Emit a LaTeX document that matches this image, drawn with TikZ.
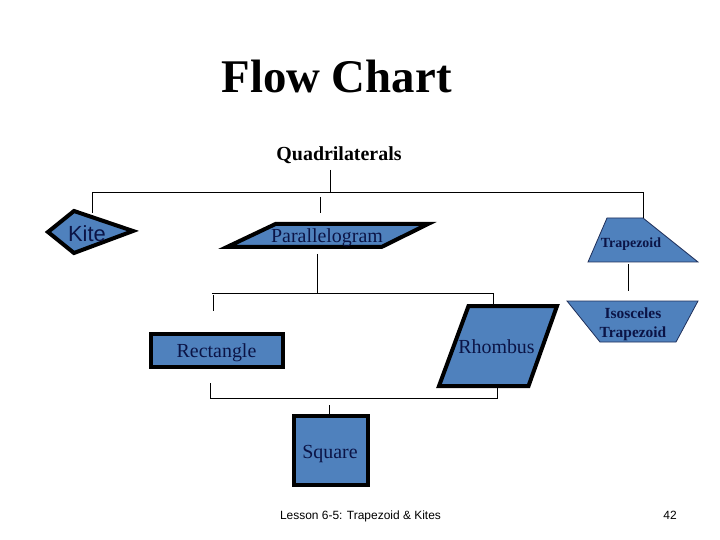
\documentclass[tikz,border=0pt]{standalone}
\usepackage{fontspec}
\setmainfont{Liberation Serif}
\setsansfont{Liberation Sans}
\definecolor{shapeblue}{HTML}{4F81BD}
\definecolor{navytext}{HTML}{0B1446}
\definecolor{edgeblue}{HTML}{1F2F5A}
\begin{document}
\begin{tikzpicture}[x=1bp,y=-1bp,
  thickshape/.style={draw=black, line width=4bp, fill=shapeblue, line join=miter, miter limit=20},
  thinshape/.style={draw=edgeblue, line width=0.8bp, fill=shapeblue},
  link/.style={draw=black, line width=1bp},
  lbl/.style={inner sep=0pt, anchor=base, text=navytext, font=\fontsize{20}{20}\selectfont},
  boldlbl/.style={inner sep=0pt, anchor=base, text=navytext, font=\bfseries\fontsize{14}{14}\selectfont},
  head/.style={inner sep=0pt, anchor=base, text=black}]
\useasboundingbox (0,0) rectangle (720,540);

% title and heading
\node[head, font=\bfseries\fontsize{47}{47}\selectfont] (title) at (336.5,93) {Flow Chart};
\node[head, font=\bfseries\fontsize{20}{20}\selectfont] (quad) at (339,161) {Quadrilaterals};

% Kite
\coordinate (kL) at (48,232); \coordinate (kT) at (74,211);
\coordinate (kR) at (133,231); \coordinate (kB) at (74,253);
\draw[thickshape] (kL) -- (kT) -- (kR) -- (kB) -- cycle;
\node[lbl, font=\sffamily\fontsize{22}{22}\selectfont] (kite) at (87,242) {Kite};

% Parallelogram
\coordinate (pTL) at (275.5,224); \coordinate (pTR) at (428,224);
\coordinate (pBR) at (381.5,247); \coordinate (pBL) at (227,247);
\draw[thickshape] (pTL) -- (pTR) -- (pBR) -- (pBL) -- cycle;
\node[lbl] (para) at (327,243) {Parallelogram};

% Trapezoid
\coordinate (tTL) at (607,218); \coordinate (tTR) at (643,218);
\coordinate (tBR) at (698,262); \coordinate (tBL) at (588,262);
\draw[thinshape] (tTL) -- (tTR) -- (tBR) -- (tBL) -- cycle;
\node[boldlbl] (trap) at (631,248) {Trapezoid};

% Isosceles trapezoid
\coordinate (iTL) at (567,301); \coordinate (iTR) at (698,301);
\coordinate (iBR) at (676,342); \coordinate (iBL) at (600,342);
\draw[thinshape] (iTL) -- (iTR) -- (iBR) -- (iBL) -- cycle;
\node[boldlbl, align=center, font=\bfseries\fontsize{15.5}{19}\selectfont, anchor=base] (isos) at (633,337) {Isosceles\\Trapezoid};

% Rectangle
\coordinate (rTL) at (151,334); \coordinate (rBR) at (283,367);
\draw[thickshape] (rTL) rectangle (rBR);
\node[lbl] (rect) at (216.5,357) {Rectangle};

% Rhombus
\coordinate (hTL) at (468.5,306); \coordinate (hTR) at (557,306);
\coordinate (hBR) at (528.5,386); \coordinate (hBL) at (439,386);
\draw[thickshape] (hTL) -- (hTR) -- (hBR) -- (hBL) -- cycle;
\node[lbl] (rhomb) at (496.5,353) {Rhombus};

% Square
\coordinate (sTL) at (294,416); \coordinate (sBR) at (368,485);
\draw[thickshape] (sTL) rectangle (sBR);
\node[lbl] (square) at (330,458) {Square};

% connectors
\coordinate (qStem) at (330,170); \coordinate (busQ) at (330,193);
\coordinate (busK) at (92,193); \coordinate (busT) at (643,193);
\coordinate (kTop) at (92,213);
\coordinate (pStubA) at (320,197); \coordinate (pStubB) at (320,213);
\draw[link] (qStem) -- (busQ);
\draw[link] (kTop) -- (busK) -- (busT) -- (tTR);
\draw[link] (pStubA) -- (pStubB);

\coordinate (pDown) at (317,254); \coordinate (bus2P) at (317,293);
\coordinate (bus2L) at (212,293); \coordinate (bus2R) at (493,293);
\coordinate (hTop) at (493,305);
\coordinate (rStubA) at (213,295); \coordinate (rStubB) at (213,311);
\draw[link] (pDown) -- (bus2P);
\draw[link] (bus2L) -- (bus2R) -- (hTop);
\draw[link] (rStubA) -- (rStubB);

\coordinate (tDown) at (628,264); \coordinate (iUp) at (628,291);
\draw[link] (tDown) -- (iUp);

\coordinate (rDown) at (210,383); \coordinate (bus3L) at (210,398);
\coordinate (bus3R) at (497,398); \coordinate (hBot) at (497,388);
\coordinate (sStubA) at (329,405); \coordinate (sStubB) at (329,414);
\draw[link] (rDown) -- (bus3L) -- (bus3R) -- (hBot);
\draw[link] (sStubA) -- (sStubB);

% footer
\node[head, font=\sffamily\fontsize{12}{12}\selectfont] (footer) at (360.5,519) {Lesson 6-5: Trapezoid \& Kites};
\node[head, font=\sffamily\fontsize{12}{12}\selectfont] (pagenum) at (670,519) {42};
\end{tikzpicture}
\end{document}
